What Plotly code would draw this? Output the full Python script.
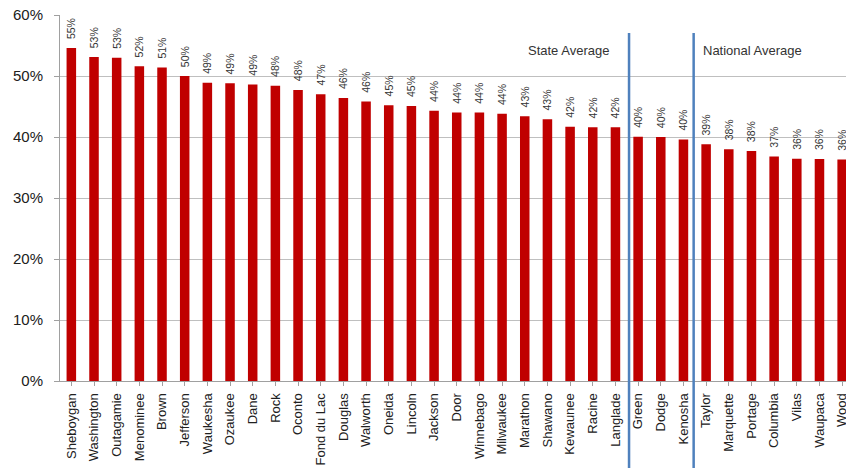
import plotly.graph_objects as go

counties = ["Sheboygan", "Washington", "Outagamie", "Menominee", "Brown", "Jefferson",
            "Waukesha", "Ozaukee", "Dane", "Rock", "Oconto", "Fond du Lac", "Douglas",
            "Walworth", "Oneida", "Lincoln", "Jackson", "Door", "Winnebago", "Milwaukee",
            "Marathon", "Shawano", "Kewaunee", "Racine", "Langlade", "Green", "Dodge",
            "Kenosha", "Taylor", "Marquette", "Portage", "Columbia", "Vilas", "Waupaca", "Wood"]
values = [0.546, 0.531, 0.530, 0.516, 0.514, 0.500,
          0.489, 0.488, 0.486, 0.484, 0.477, 0.470, 0.464,
          0.458, 0.452, 0.451, 0.443, 0.440, 0.440, 0.438,
          0.434, 0.429, 0.417, 0.416, 0.416, 0.4005, 0.400,
          0.396, 0.388, 0.380, 0.377, 0.368, 0.3645, 0.364, 0.363]
y_ticks = [0, 0.1, 0.2, 0.3, 0.4, 0.5, 0.6]
y_tick_labels = ["0%", "10%", "20%", "30%", "40%", "50%", "60%"]
divider_positions = [24.6, 27.45]
avg_labels = ["State Average", "National Average"]
avg_label_x = [21.93, 30.03]
avg_label_y = [0.5426, 0.5426]

FONT = "Liberation Sans, Arial, sans-serif"
TXT = "#333333"
idx = list(range(len(counties)))

fig = go.Figure(go.Bar(
    x=idx,
    y=values,
    marker=dict(color="#C00000", line=dict(width=0)),
    width=0.42,
    text=["\u00a0\u00a0" + f"{round(v*100):.0f}%" for v in values],
    textposition="outside",
    textangle=-90,
    constraintext="none",
    cliponaxis=True,
    textfont=dict(family=FONT, size=10.5, color=TXT),
    hoverinfo="skip",
))

shapes = []
for xp in divider_positions:
    shapes.append(dict(type="line", xref="x", yref="paper", x0=xp, x1=xp,
                       y0=-0.25, y1=0.951, line=dict(color="#4F81BD", width=2.5),
                       layer="above"))

annotations = []
for t, ax_, ay_ in zip(avg_labels, avg_label_x, avg_label_y):
    annotations.append(dict(text=t, x=ax_, y=ay_, xref="x", yref="y", showarrow=False,
                            font=dict(family=FONT, size=13, color=TXT),
                            xanchor="center", yanchor="middle"))
# last category sits on the cropped right edge; plotly drops its tick label, so draw it here
annotations.append(dict(text=counties[-1], x=idx[-1], y=-0.027, xref="x", yref="paper",
                        showarrow=False, textangle=-90, xanchor="center", yanchor="top",
                        font=dict(family=FONT, size=13, color="#202020")))

fig.update_layout(
    width=846, height=468,
    margin=dict(l=60, r=0, t=15, b=87, autoexpand=False),
    paper_bgcolor="white", plot_bgcolor="white",
    showlegend=False,
    shapes=shapes,
    annotations=annotations,
)
fig.update_xaxes(
    range=[-0.5, 34.17],
    automargin=False,
    tickmode="array",
    tickvals=idx,
    ticktext=counties,
    tickangle=-90,
    tickson="boundaries",
    ticks="outside", ticklen=4, tickcolor="#A0A0A0",
    showline=True, linecolor="#A0A0A0", linewidth=1,
    showgrid=False,
    tickfont=dict(family=FONT, size=13, color="#202020"),
    ticklabelstandoff=2,
)
fig.update_yaxes(
    range=[0, 0.6],
    automargin=False,
    tickmode="array",
    tickvals=y_ticks,
    ticktext=y_tick_labels,
    ticks="outside", ticklen=5, tickcolor="#A0A0A0",
    showline=True, linecolor="#A0A0A0", linewidth=1,
    showgrid=True, gridcolor="#BFBFBF", gridwidth=1,
    zeroline=False,
    tickfont=dict(family=FONT, size=15, color="#202020"),
    ticklabelstandoff=8,
)

fig.write_html("out.html",
               config={"displayModeBar": False},
               post_script="document.body.style.margin='0';document.body.style.overflow='hidden';")
